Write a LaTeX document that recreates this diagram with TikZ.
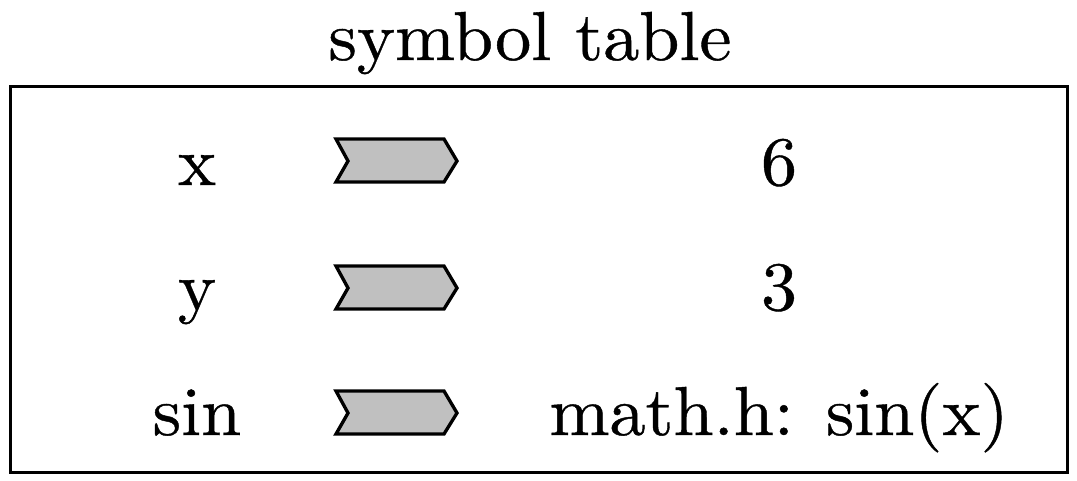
\documentclass[tikz,border=0pt]{standalone}
\usepackage{fontspec}
\setmainfont{lmroman10-regular}[Extension=.otf, FakeStretch=1.04, FakeBold=0.6]

\tikzset{every picture/.style={line width=0.75pt}}
\tikzset{
  pointer/.style={draw=black, fill={rgb, 255:red, 192; green, 192; blue, 192}, line width=2.5, line join=miter},
  entry/.style={anchor=base, inner sep=0.75pt, font=\fontsize{52}{62}\selectfont}
}

\begin{document}
\begin{tikzpicture}[x=0.75pt,y=0.75pt,yscale=-1,xscale=1]
\path [use as bounding box] (0,0) rectangle (1077,480); %set diagram size

%Shape: Rectangle [id:table]
\draw [line width=2.25] (10,86) rectangle (1067,472);

%Shape: Pointer [id:ptrx]
\draw [pointer] (336,139) -- (444,139) -- (457,161) -- (444,182) -- (336,182) -- (348,161) -- cycle ;
%Shape: Pointer [id:ptry]
\draw [pointer] (336,266) -- (444,266) -- (457,288) -- (444,309) -- (336,309) -- (348,288) -- cycle ;
%Shape: Pointer [id:ptrsin]
\draw [pointer] (336,391) -- (444,391) -- (457,413) -- (444,434) -- (336,434) -- (348,413) -- cycle ;

% Text Node
\draw (530,60) node (title) [entry] {symbol table};
% Text Node
\draw (197,185) node (namex) [entry] {x};
% Text Node
\draw (197,310) node (namey) [entry] {y};
% Text Node
\draw (197,435) node (namesin) [entry] {sin};
% Text Node
\draw (779,185) node (valx) [entry] {6};
% Text Node
\draw (779,310) node (valy) [entry] {3};
% Text Node
\draw (779,435) node (valsin) [entry] {math.h: sin(x)};

\end{tikzpicture}
\end{document}
